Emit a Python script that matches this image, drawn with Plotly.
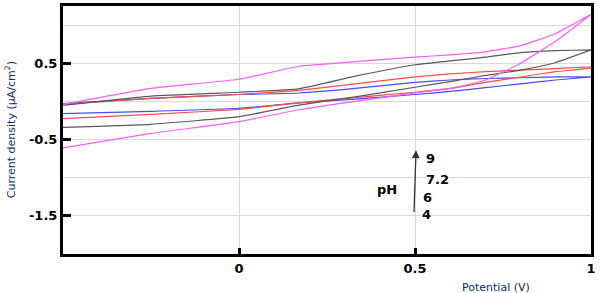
import plotly.graph_objects as go

# Potential grid (V) - forward scan, reverse scan reads the same grid backwards
potential = [-0.5, -0.25, 0.0, 0.17, 0.33, 0.5, 0.6, 0.7, 0.8, 0.9, 1.0]

# Current density (uA/cm^2) per pH: forward (lower) and reverse (upper) branches
ph9_fwd = [-0.61, -0.42, -0.265, -0.11, 0.0, 0.11, 0.17, 0.28, 0.50, 0.79, 1.14]
ph9_rev = [-0.04, 0.17, 0.29, 0.46, 0.52, 0.58, 0.61, 0.65, 0.73, 0.89, 1.14]

ph72_fwd = [-0.34, -0.30, -0.20, -0.05, 0.06, 0.185, 0.26, 0.34, 0.41, 0.51, 0.675]
ph72_rev = [-0.05, 0.07, 0.12, 0.165, 0.33, 0.48, 0.53, 0.58, 0.64, 0.665, 0.675]

ph6_fwd = [-0.225, -0.17, -0.105, -0.02, 0.05, 0.12, 0.17, 0.25, 0.32, 0.39, 0.44]
ph6_rev = [-0.04, 0.04, 0.09, 0.145, 0.23, 0.32, 0.36, 0.39, 0.41, 0.43, 0.45]

ph4_fwd = [-0.16, -0.13, -0.09, -0.02, 0.03, 0.09, 0.13, 0.18, 0.23, 0.28, 0.32]
ph4_rev = [-0.03, 0.04, 0.09, 0.11, 0.17, 0.25, 0.28, 0.30, 0.31, 0.32, 0.32]

series = [
    ("pH 4", ph4_fwd, ph4_rev, "#4a4aff"),
    ("pH 6", ph6_fwd, ph6_rev, "#ff4a4a"),
    ("pH 7.2", ph72_fwd, ph72_rev, "#5a5a5a"),
    ("pH 9", ph9_fwd, ph9_rev, "#ff5cff"),
]

y_ticks = [0.5, -0.5, -1.5]
y_tick_text = ["0.5", "-0.5", "-1.5"]
x_ticks = [0, 0.5, 1]
x_tick_text = ["0", "0.5", "1"]

fig = go.Figure()
for name, fwd, rev, col in series:
    xs = potential + potential[::-1]
    ys = fwd + rev[::-1]
    fig.add_trace(go.Scatter(x=xs, y=ys, mode="lines", name=name,
                             line=dict(color=col, width=1.2, shape="spline", smoothing=0.4),
                             showlegend=False))

tfont = dict(family="DejaVu Sans", size=13, color="black", weight="bold")
fig.update_layout(
    width=600, height=293,
    margin=dict(l=63, r=9, t=6, b=39, autoexpand=False),
    paper_bgcolor="white", plot_bgcolor="white",
    xaxis=dict(range=[-0.5, 1.0], tickvals=x_ticks, ticktext=x_tick_text,
               automargin=False,
               showgrid=True, gridcolor="#d9d9d9", gridwidth=1,
               showline=True, linecolor="black", linewidth=3, mirror=True,
               ticks="inside", ticklen=6, tickwidth=3, tickcolor="black",
               tickfont=tfont, zeroline=False),
    yaxis=dict(range=[-2.0, 1.25], tickvals=y_ticks, ticktext=y_tick_text,
               automargin=False,
               showgrid=True, gridcolor="#d9d9d9", gridwidth=1,
               minor=dict(dtick=0.5, tick0=0, showgrid=True, gridcolor="#d9d9d9", ticks=""),
               showline=True, linecolor="black", linewidth=3, mirror=True,
               ticks="inside", ticklen=8, tickwidth=3, tickcolor="black",
               tickfont=tfont, zeroline=False),
)

# Axis titles
fig.add_annotation(xref="paper", yref="paper", x=-0.1, y=0.5,
                   text="Current density (μA/cm<sup>2</sup>)", textangle=-90,
                   showarrow=False, xanchor="center", yanchor="middle",
                   font=dict(family="DejaVu Sans", size=11, color="#0b2d5e"))
fig.add_annotation(xref="paper", yref="paper", x=0.82, y=-0.1,
                   text="Potential (V)", showarrow=False,
                   xanchor="center", yanchor="top",
                   font=dict(family="DejaVu Sans", size=11, color="#0b2d5e"))

# pH arrow and labels
fig.add_annotation(x=0.503, y=-0.64, ax=0.497, ay=-1.47, xref="x", yref="y",
                   axref="x", ayref="y", showarrow=True, arrowhead=2,
                   arrowsize=1.2, arrowwidth=1.3, arrowcolor="#333333", text="")
for txt, xv, yv in [("pH", 0.42, -1.15), ("9", 0.545, -0.75), ("7.2", 0.565, -1.03),
                    ("6", 0.535, -1.26), ("4", 0.533, -1.48)]:
    fig.add_annotation(x=xv, y=yv, text=txt, showarrow=False, font=tfont,
                       bgcolor="white" if txt != "pH" else None, borderpad=0)

fig.write_html("out.html", config={"displayModeBar": False},
               post_script="document.body.style.margin='0';document.body.style.overflow='hidden';")
